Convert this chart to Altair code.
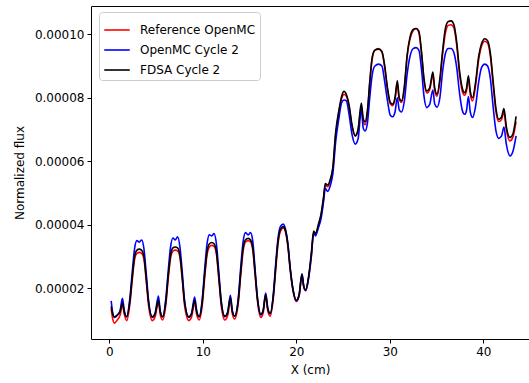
import altair as alt
import pandas as pd

# x positions (cm)
x_cm = [0.2, 0.35, 0.55, 0.85, 1.15, 1.4, 1.6, 1.85, 2.2, 2.45, 2.7, 2.95, 3.2, 3.45, 3.7, 3.95, 4.2, 4.6, 4.9, 5.25,
        5.45, 5.7, 6.05, 6.3, 6.55, 6.8, 7.05, 7.3, 7.55, 7.8, 8.05, 8.5, 8.8, 9.12, 9.35, 9.6, 9.95, 10.2, 10.45, 10.7,
        10.95, 11.2, 11.45, 11.7, 11.95, 12.35, 12.65, 12.95, 13.15, 13.4, 13.8, 14.05, 14.3, 14.55, 14.85, 15.1, 15.35, 15.6, 15.85, 16.2,
        16.45, 16.72, 16.95, 17.2, 17.55, 17.8, 18.05, 18.3, 18.6, 18.85, 19.1, 19.35, 19.65, 20.0, 20.3, 20.6, 20.8, 21.0, 21.3, 21.6,
        21.85, 22.05, 22.35, 22.65, 22.9, 23.1, 23.35, 23.65, 23.9, 24.2, 24.55, 24.85, 25.1, 25.35, 25.65, 25.95, 26.3, 26.6, 26.95, 27.15,
        27.35, 27.6, 27.85, 28.1, 28.4, 28.8, 29.15, 29.45, 29.75, 30.05, 30.3, 30.55, 30.8, 31.0, 31.25, 31.55, 31.85, 32.15, 32.5, 32.8,
        33.1, 33.4, 33.65, 33.95, 34.25, 34.6, 34.8, 35.05, 35.35, 35.65, 35.95, 36.25, 36.55, 36.85, 37.15, 37.45, 37.75, 38.0, 38.2, 38.4,
        38.6, 38.85, 39.15, 39.5, 39.8, 40.15, 40.45, 40.75, 41.05, 41.35, 41.65, 41.95, 42.2, 42.45, 42.85, 43.15, 43.5]

# normalized flux, in units of 1e-5
fdsa_cycle2 = [1.43, 1.2, 1.1, 1.15, 1.25, 1.55, 1.25, 1.1, 1.6, 2.35, 3.0, 3.2, 3.23, 3.2, 3.0, 2.3, 1.55, 1.1, 1.2, 1.62,
               1.25, 1.1, 1.6, 2.4, 3.05, 3.27, 3.30, 3.27, 3.05, 2.35, 1.55, 1.1, 1.2, 1.62, 1.25, 1.1, 1.6, 2.45, 3.15, 3.4,
               3.44, 3.4, 3.15, 2.4, 1.6, 1.12, 1.22, 1.7, 1.28, 1.12, 1.65, 2.5, 3.25, 3.52, 3.57, 3.52, 3.25, 2.45, 1.65, 1.18,
               1.3, 1.8, 1.35, 1.2, 1.8, 2.7, 3.5, 3.85, 3.94, 3.8, 3.35, 2.6, 1.95, 1.62, 1.8, 2.44, 2.05, 1.95, 2.35, 3.1,
               3.8, 3.72, 4.0, 4.35, 4.85, 5.3, 5.25, 5.45, 5.8, 6.9, 7.6, 8.05, 8.2, 8.1, 7.75, 7.15, 6.8, 7.0, 7.83, 7.35,
               7.24, 7.6, 8.5, 9.25, 9.5, 9.53, 9.45, 9.0, 8.3, 7.85, 7.8, 8.0, 8.53, 8.0, 7.9, 8.35, 9.35, 9.9, 10.15, 10.18,
               10.1, 9.4, 8.6, 8.21, 8.3, 8.81, 8.3, 8.11, 8.6, 9.5, 10.2, 10.4, 10.42, 10.3, 9.75, 8.85, 8.3, 8.16, 8.3, 8.69,
               8.2, 8.0, 8.45, 9.3, 9.7, 9.86, 9.8, 9.4, 8.5, 7.65, 7.32, 7.4, 7.66, 7.1, 6.75, 6.85, 7.41]

reference_openmc = [1.35, 1.05, 0.9, 1.0, 1.15, 1.48, 1.18, 0.98, 1.5, 2.25, 2.9, 3.1, 3.13, 3.1, 2.92, 2.22, 1.45, 0.98, 1.1, 1.55,
                    1.16, 1.0, 1.5, 2.3, 2.95, 3.17, 3.20, 3.18, 2.97, 2.27, 1.45, 0.98, 1.1, 1.55, 1.16, 1.0, 1.5, 2.35, 3.05, 3.3,
                    3.35, 3.32, 3.08, 2.32, 1.5, 1.0, 1.13, 1.62, 1.2, 1.03, 1.55, 2.4, 3.15, 3.45, 3.5, 3.46, 3.18, 2.38, 1.57, 1.08,
                    1.22, 1.75, 1.28, 1.12, 1.72, 2.6, 3.42, 3.8, 3.9, 3.75, 3.3, 2.55, 1.9, 1.58, 1.76, 2.4, 2.02, 1.92, 2.3, 3.0,
                    3.75, 3.7, 3.95, 4.3, 4.8, 5.25, 5.2, 5.4, 5.75, 6.8, 7.55, 7.98, 8.1, 8.05, 7.7, 7.1, 6.8, 6.98, 7.7, 7.25,
                    7.15, 7.5, 8.45, 9.2, 9.5, 9.55, 9.45, 8.95, 8.25, 7.8, 7.75, 7.95, 8.45, 7.95, 7.85, 8.3, 9.3, 9.85, 10.12, 10.18,
                    10.05, 9.35, 8.55, 8.15, 8.25, 8.7, 8.22, 8.05, 8.5, 9.4, 10.05, 10.28, 10.3, 10.2, 9.65, 8.75, 8.2, 8.08, 8.22, 8.6,
                    8.1, 7.9, 8.35, 9.2, 9.62, 9.78, 9.72, 9.3, 8.4, 7.55, 7.25, 7.32, 7.55, 7.0, 6.64, 6.75, 7.25]

openmc_cycle2 = [1.60, 1.25, 1.08, 1.15, 1.3, 1.68, 1.3, 1.1, 1.7, 2.5, 3.25, 3.5, 3.45, 3.52, 3.25, 2.45, 1.6, 1.08, 1.22, 1.75,
                 1.28, 1.1, 1.7, 2.55, 3.3, 3.58, 3.52, 3.62, 3.3, 2.5, 1.6, 1.08, 1.22, 1.72, 1.28, 1.1, 1.7, 2.6, 3.4, 3.68,
                 3.65, 3.72, 3.4, 2.55, 1.65, 1.1, 1.25, 1.78, 1.3, 1.12, 1.72, 2.65, 3.45, 3.75, 3.68, 3.75, 3.45, 2.55, 1.68, 1.16,
                 1.3, 1.85, 1.36, 1.2, 1.85, 2.8, 3.6, 3.95, 4.02, 3.85, 3.4, 2.62, 1.95, 1.6, 1.8, 2.45, 2.05, 1.93, 2.3, 3.0,
                 3.72, 3.65, 3.9, 4.2, 4.7, 5.15, 5.05, 5.25, 5.6, 6.6, 7.35, 7.85, 7.93, 7.9, 7.45, 6.85, 6.54, 6.7, 7.64, 7.05,
                 6.95, 7.2, 8.0, 8.7, 9.0, 9.06, 9.0, 8.5, 7.9, 7.45, 7.4, 7.55, 8.0, 7.62, 7.55, 7.9, 8.75, 9.3, 9.55, 9.58,
                 9.5, 8.85, 8.05, 7.69, 7.78, 8.24, 7.8, 7.7, 8.0, 8.85, 9.4, 9.55, 9.55, 9.42, 8.95, 8.15, 7.6, 7.48, 7.6, 8.04,
                 7.55, 7.38, 7.7, 8.5, 8.95, 9.06, 9.0, 8.6, 7.7, 6.95, 6.72, 6.8, 7.08, 6.55, 6.17, 6.3, 6.8]

UNIT = 1e-5
series_names = ["Reference OpenMC", "OpenMC Cycle 2", "FDSA Cycle 2"]
series_colors = ["#ff0000", "#0000ff", "#000000"]
x_ticks = [0, 10, 20, 30, 40]
y_ticks = [2e-5, 4e-5, 6e-5, 8e-5, 10e-5]

frames = []
for name, vals in zip(series_names, [reference_openmc, openmc_cycle2, fdsa_cycle2]):
    frames.append(pd.DataFrame({"x": x_cm, "flux": [v * UNIT for v in vals], "series": name}))
df = pd.concat(frames, ignore_index=True)

FONT = "DejaVu Sans"

color = alt.Color(
    "series:N",
    scale=alt.Scale(domain=series_names, range=series_colors),
    legend=alt.Legend(
        title=None, orient="none", legendX=8, legendY=6,
        symbolType="stroke", symbolSize=650, symbolStrokeWidth=1.6,
        labelFont=FONT, labelFontSize=12, labelColor="#000000", labelOffset=9,
        fillColor="white", strokeColor="#cccccc", cornerRadius=3,
        padding=4, rowPadding=-7,
    ),
)

x_scale = alt.Scale(domain=[-1.96, 44.88], nice=False, zero=False)
y_scale = alt.Scale(domain=[0.40e-5, 10.89e-5], nice=False, zero=False)

y_enc = alt.Y("flux:Q", scale=y_scale,
              axis=alt.Axis(values=y_ticks, format=".5f", title="Normalized flux", titlePadding=8))

x_bottom = alt.X("x:Q", scale=x_scale,
                 axis=alt.Axis(values=x_ticks, format="d", title="X (cm)", titlePadding=7))
x_none = alt.X("x:Q", scale=x_scale, axis=None)
x_top = alt.X("x:Q", scale=x_scale,
              axis=alt.Axis(orient="top", labels=False, ticks=False, title=None, values=[]))

x_encs = [x_bottom, x_none, x_top]
layers = []
for name, xe in zip(series_names, x_encs):
    layers.append(
        alt.Chart(df)
        .transform_filter(alt.datum.series == name)
        .mark_line(interpolate="monotone", strokeWidth=1.6, clip=True)
        .encode(x=xe, y=y_enc, color=color)
    )

chart = (
    alt.layer(*layers)
    .resolve_axis(x="independent")
    .properties(
        width=438, height=333,
        padding={"left": 91, "top": 6, "right": 0, "bottom": 44},
        autosize=alt.AutoSizeParams(type="none"),
        background="white",
    )
    .configure_view(stroke=None)
    .configure_axis(
        grid=False, domainColor="#000000", domainWidth=1, tickColor="#000000",
        tickSize=4, tickWidth=1, labelFont=FONT, labelFontSize=12, labelColor="#000000",
        labelPadding=3, titleFont=FONT, titleFontSize=12, titleFontWeight="normal",
        titleColor="#000000",
    )
)

chart.save("out.html", embed_options={"renderer": "svg", "actions": False})
